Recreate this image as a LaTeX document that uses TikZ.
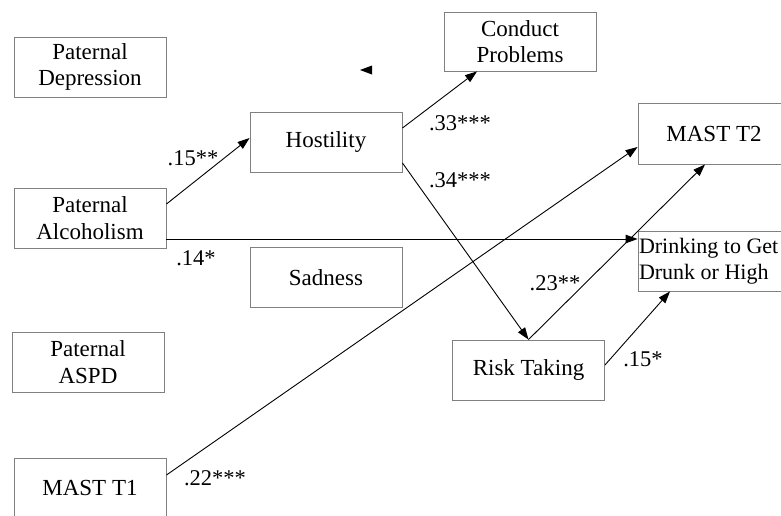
\documentclass[tikz,border=0pt]{standalone}
\usepackage{fontspec}
\setmainfont{Liberation Serif}
\usetikzlibrary{arrows.meta}
\definecolor{boxgray}{gray}{0.5}
\begin{document}
\begin{tikzpicture}[x=1pt,y=-1pt,
  box/.style={draw=boxgray,line width=0.9pt,minimum width=152pt,minimum height=60pt,inner sep=1pt,align=center,font=\fontsize{23}{26.5}\selectfont},
  lbl/.style={font=\fontsize{22.5}{26.5}\selectfont,inner sep=0pt},
  arr/.style={line width=0.9pt,-{Triangle[length=12pt,width=8.5pt]}},
  ln/.style={line width=0.9pt}]
\useasboundingbox (0,0) rectangle (781,515);
\clip (0,0) rectangle (781,515);
\node[box] (pdep) at (90,67) {Paternal\\Depression};
\node[box] (palc) at (90,218) {Paternal\\Alcoholism};
\node[box] (aspd) at (88,362) {Paternal\\ASPD};
\node[box] (mt1) at (90,488) {MAST T1};
\node[box] (hos) at (326,142) {Hostility};
\node[box] (sad) at (326,277.5) {Sadness};
\node[box,minimum height=59pt] (cond) at (520,41.5) {Conduct\\Problems};
\node[box,minimum height=61pt] (mt2) at (714,133.5) {MAST T2};
\node[box,text width=150pt,inner xsep=1pt,align=flush left,font=\fontsize{22}{26.5}\selectfont] (drink) at (714,261) {Drinking to Get\\Drunk or High};
\node[box] (risk) at (528.5,370) {Risk Taking};
% connectors
\draw[arr] ([yshift=14pt]palc.east) -- ([yshift=4pt]hos.west);
\draw[arr] ([yshift=-21pt]palc.east) -- ([yshift=22pt]drink.west);
\draw[arr] ([yshift=14pt]hos.east) -- ([xshift=-43pt]cond.south);
\draw[arr] ([yshift=-21pt]hos.east) -- (risk.north);
\draw[arr] (risk.north) -- ([xshift=-9pt]mt2.south);
\draw[arr] ([yshift=5pt]risk.east) -- ([xshift=-44pt]drink.south);
\draw[arr] ([yshift=13pt]mt1.east) -- ([yshift=-13.5pt]mt2.west);
% stray arrowhead
\fill (360,70) -- (372,65.5) -- (372,74.5) -- cycle;
% labels
\node[lbl] (l1) at (193,158) {.15**};
\node[lbl] (l2) at (196,258) {.14*};
\node[lbl] (l3) at (460,123) {.33***};
\node[lbl] (l4) at (460,180) {.34***};
\node[lbl] (l5) at (555,283) {.23**};
\node[lbl] (l6) at (643,359) {.15*};
\node[lbl] (l7) at (215,478) {.22***};
\end{tikzpicture}
\end{document}
